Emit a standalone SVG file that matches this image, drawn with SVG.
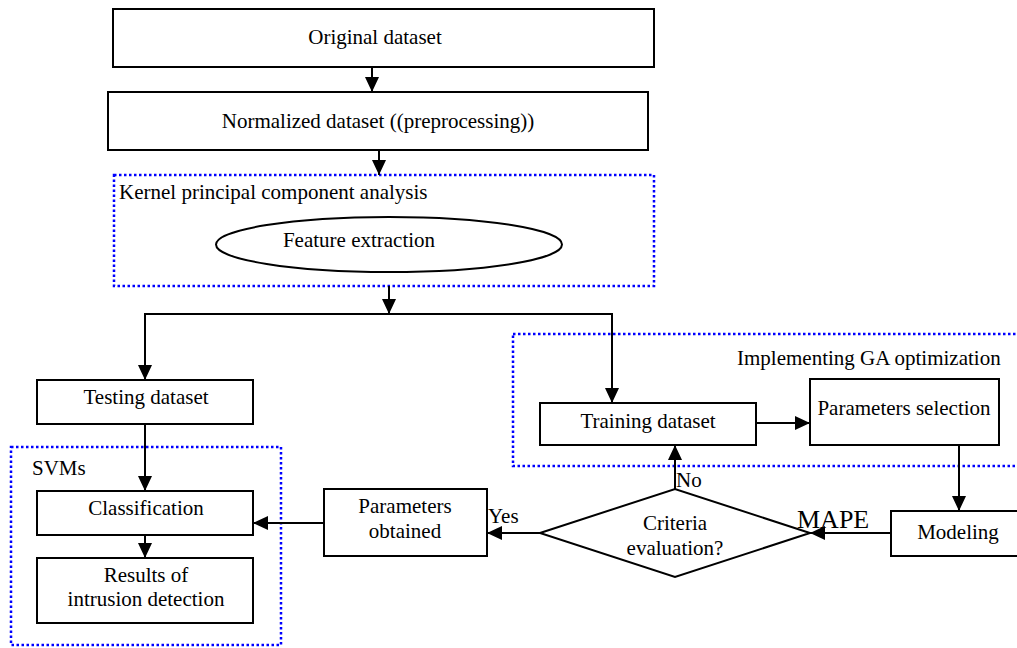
<svg xmlns="http://www.w3.org/2000/svg" width="1017" height="648" viewBox="0 0 1017 648">
<style>
.box{fill:#fff;stroke:#000;stroke-width:2}
.grp{fill:none;stroke:#0000ff;stroke-width:2.5;stroke-dasharray:2.5 2.5}
.t{font-family:"Liberation Serif","Times New Roman",serif;font-size:21px;fill:#000}
.c{text-anchor:middle}
.ln{fill:none;stroke:#000;stroke-width:2}
</style>
<defs>
<marker id="ah" markerWidth="15" markerHeight="14" refX="15" refY="7" orient="auto" markerUnits="userSpaceOnUse">
<path d="M0,0 L15,7 L0,14 z" fill="#000"/>
</marker>
</defs>
<rect width="1017" height="648" fill="#fff"/>
<g id="kpca-group">
<rect class="grp" x="114" y="175" width="540" height="111"/>
<text class="t" x="119" y="199">Kernel principal component analysis</text>
</g>
<g id="ga-group">
<rect class="grp" x="513" y="334" width="520" height="132"/>
<text class="t" x="737" y="365">Implementing GA optimization</text>
</g>
<g id="svm-group">
<rect class="grp" x="11" y="447" width="270" height="198"/>
<text class="t" x="32" y="475">SVMs</text>
</g>
<g id="original">
<rect class="box" x="113" y="9" width="541" height="58"/>
<text class="t c" x="375" y="44">Original dataset</text>
</g>
<g id="normalized">
<rect class="box" x="108" y="92" width="540" height="58"/>
<text class="t c" x="378" y="128">Normalized dataset ((preprocessing))</text>
</g>
<g id="feature">
<ellipse cx="389" cy="244.5" rx="173" ry="27.5" fill="#fff" stroke="#000" stroke-width="2"/>
<text class="t c" x="359" y="247">Feature extraction</text>
</g>
<g id="testing">
<rect class="box" x="37" y="380" width="216" height="44"/>
<text class="t c" x="146" y="404">Testing dataset</text>
</g>
<g id="classification">
<rect class="box" x="37" y="491" width="216" height="44"/>
<text class="t c" x="146" y="515">Classification</text>
</g>
<g id="results">
<rect class="box" x="37" y="558" width="216" height="65"/>
<text class="t c" x="146" y="582">Results of</text>
<text class="t c" x="146" y="606">intrusion detection</text>
</g>
<g id="params-obtained">
<rect class="box" x="324" y="489" width="163" height="67"/>
<text class="t c" x="405" y="513">Parameters</text>
<text class="t c" x="405" y="538">obtained</text>
</g>
<g id="criteria">
<path d="M540,533 L675,489 L810,533 L675,577 z" fill="#fff" stroke="#000" stroke-width="2"/>
<text class="t c" x="675" y="530">Criteria</text>
<text class="t c" x="675" y="555">evaluation?</text>
</g>
<g id="training">
<rect class="box" x="540" y="403" width="216" height="42"/>
<text class="t c" x="648" y="428">Training dataset</text>
</g>
<g id="params-selection">
<rect class="box" x="810" y="379" width="189" height="66"/>
<text class="t c" x="904" y="415">Parameters selection</text>
</g>
<g id="modeling">
<rect class="box" x="891" y="511" width="130" height="45"/>
<text class="t c" x="958" y="539">Modeling</text>
</g>
<g id="connectors">
<line class="ln" x1="372" y1="67" x2="372" y2="92" marker-end="url(#ah)"/>
<line class="ln" x1="379" y1="150" x2="379" y2="175" marker-end="url(#ah)"/>
<line class="ln" x1="389" y1="286" x2="389" y2="314" marker-end="url(#ah)"/>
<polyline class="ln" points="145,380 145,314 612,314 612,403"/>
<line class="ln" x1="145" y1="330" x2="145" y2="380" marker-end="url(#ah)"/>
<line class="ln" x1="612" y1="330" x2="612" y2="403" marker-end="url(#ah)"/>
<line class="ln" x1="145" y1="424" x2="145" y2="491" marker-end="url(#ah)"/>
<line class="ln" x1="145" y1="535" x2="145" y2="558" marker-end="url(#ah)"/>
<line class="ln" x1="324" y1="523" x2="253" y2="523" marker-end="url(#ah)"/>
<line class="ln" x1="540" y1="533" x2="487" y2="533" marker-end="url(#ah)"/>
<line class="ln" x1="675" y1="489" x2="675" y2="445" marker-end="url(#ah)"/>
<line class="ln" x1="756" y1="423" x2="810" y2="423" marker-end="url(#ah)"/>
<line class="ln" x1="959" y1="445" x2="959" y2="511" marker-end="url(#ah)"/>
<line class="ln" x1="891" y1="533" x2="810" y2="533" marker-end="url(#ah)"/>
<text class="t" x="488" y="523">Yes</text>
<text class="t" x="676" y="487">No</text>
<text class="t" x="797" y="528" style="font-size:26px">MAPE</text>
</g>
</svg>
